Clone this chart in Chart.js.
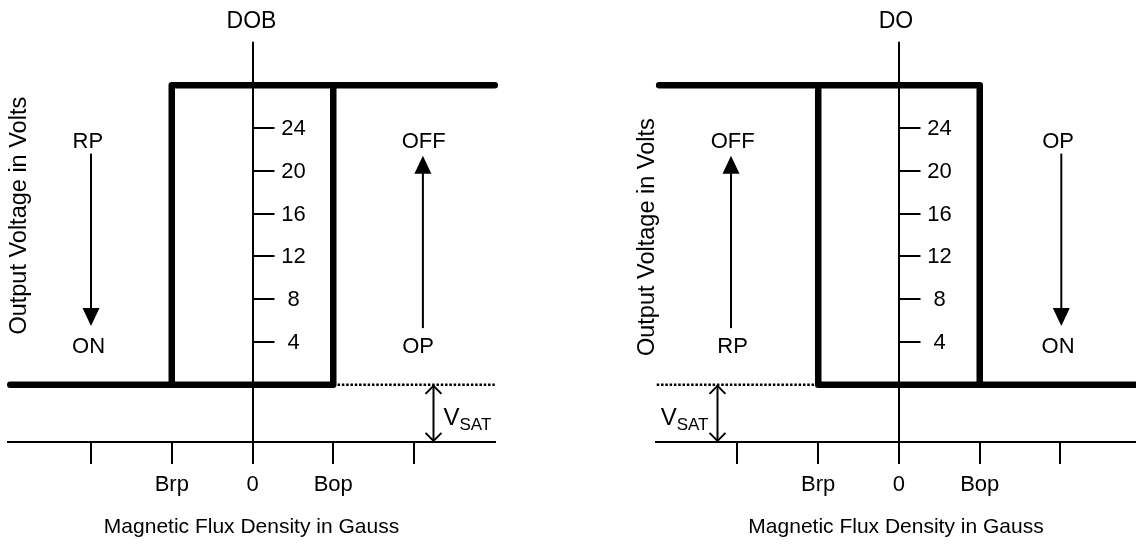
<!DOCTYPE html>
<html>
<head>
<meta charset="utf-8">
<script src="https://cdn.jsdelivr.net/npm/chart.js@4.4.1/dist/chart.umd.min.js"></script>
<style>
  html, body { margin: 0; padding: 0; background: #fff; }
  #wrap { position: relative; width: 1136px; height: 544px; overflow: hidden; }
  canvas { position: absolute; top: 0; }
  #dob-chart { left: 0; }
  #do-chart { left: 568px; }
</style>
</head>
<body>
<div id="wrap">
  <canvas id="dob-chart" width="568" height="544"></canvas>
  <canvas id="do-chart" width="568" height="544"></canvas>
</div>
<script>
//? Shared axes (flux in tick steps, volts)
const fluxTicks = [-2, -1, 0, 1, 2]
const fluxTickLabels = ['', 'Brp', '0', 'Bop', '']
const voltTicks = [4, 8, 12, 16, 20, 24]

//? DOB output path
const dobLowX = [-3, 1, 1, 3]
const dobLowY = [0, 0, 28, 28]
const dobLoopX = [-1, -1, 1]
const dobLoopY = [0, 28, 28]
const dobSatX = [1, 3]
const dobSatY = [0, 0]

//? DO output path
const doHighX = [-2.97, 1, 1, 3]
const doHighY = [28, 28, 0, 0]
const doLoopX = [-1, -1, 1]
const doLoopY = [28, 0, 0]
const doSatX = [-3, -1]
const doSatY = [0, 0]

const FONT = '"Liberation Sans", Arial, sans-serif'
Chart.defaults.font.family = FONT
Chart.defaults.color = '#000'

const pts = (xs, ys) => xs.map((x, i) => ({ x: x, y: ys[i] }))

const thick = (data) => ({
    data: data,
    borderColor: '#000',
    borderWidth: 6.5,
    pointRadius: 0,
    borderCapStyle: 'round',
    borderJoinStyle: 'round',
    tension: 0,
    clip: false
})

const dotted = (data) => ({
    data: data,
    borderColor: '#000',
    borderWidth: 2.5,
    borderDash: [2.5, 1.8],
    pointRadius: 0,
    tension: 0,
    clip: false
})

function arrow(ctx, x, y1, y2) {
    const dir = y2 > y1 ? 1 : -1
    ctx.beginPath(); ctx.moveTo(x, y1); ctx.lineTo(x, y2 - dir * 14); ctx.stroke()
    ctx.beginPath()
    ctx.moveTo(x, y2)
    ctx.lineTo(x - 8.5, y2 - dir * 18)
    ctx.lineTo(x + 8.5, y2 - dir * 18)
    ctx.closePath(); ctx.fill()
}

//? labels, volt ticks, arrows
const markup = {
    id: 'markup',
    afterDatasetsDraw(chart, args, opts) {
        const { ctx, chartArea } = chart
        const xs = chart.scales.x, ys = chart.scales.y
        const x0 = Math.round(xs.getPixelForValue(0)) + 0.5
        ctx.save()
        ctx.strokeStyle = '#000'; ctx.fillStyle = '#000'; ctx.lineWidth = 2

        ctx.font = '22px ' + FONT
        ctx.textAlign = 'center'; ctx.textBaseline = 'middle'
        voltTicks.forEach(v => {
            const y = Math.round(ys.getPixelForValue(v))
            ctx.beginPath(); ctx.moveTo(x0, y); ctx.lineTo(x0 + 21, y); ctx.stroke()
            ctx.fillText(String(v), x0 + 40, y + 1)
        })

        opts.notes.forEach(n => {
            ctx.fillText(n[0], xs.getPixelForValue(n[1]), ys.getPixelForValue(n[2]))
        })
        opts.arrows.forEach(a => {
            arrow(ctx, xs.getPixelForValue(a[0]), ys.getPixelForValue(a[1]), ys.getPixelForValue(a[2]))
        })

        // y title
        ctx.save()
        ctx.font = '23.5px ' + FONT
        ctx.translate(xs.getPixelForValue(opts.yTitle[0]), ys.getPixelForValue(opts.yTitle[1]))
        ctx.rotate(-Math.PI / 2)
        ctx.fillText('Output Voltage in Volts', 0, 0)
        ctx.restore()

        // Vsat span
        const vx = Math.round(xs.getPixelForValue(opts.vsat[0])) + 0.5
        const top = ys.getPixelForValue(0), bot = chartArea.bottom
        ctx.beginPath(); ctx.moveTo(vx, top); ctx.lineTo(vx, bot); ctx.stroke()
        ctx.beginPath()
        ctx.moveTo(vx - 8, top + 9); ctx.lineTo(vx, top + 1); ctx.lineTo(vx + 8, top + 9)
        ctx.moveTo(vx - 8, bot - 9); ctx.lineTo(vx, bot - 1); ctx.lineTo(vx + 8, bot - 9)
        ctx.stroke()

        ctx.textAlign = 'left'; ctx.textBaseline = 'alphabetic'
        ctx.font = '24px ' + FONT
        const wV = ctx.measureText('V').width
        ctx.font = '17px ' + FONT
        const wS = ctx.measureText('SAT').width
        const base = ys.getPixelForValue(-3.74)
        const sx = opts.vsat[1] === 'right' ? vx + 10 : vx - 9 - wV - wS
        ctx.font = '24px ' + FONT
        ctx.fillText('V', sx, base)
        ctx.font = '17px ' + FONT
        ctx.fillText('SAT', sx + wV, base + 5)
        ctx.restore()
    }
}

function makePanel(canvasId, title, datasets, lay) {
    return new Chart(document.getElementById(canvasId), {
        type: 'line',
        data: { datasets: datasets },
        options: {
            responsive: false,
            animation: false,
            devicePixelRatio: 1,
            layout: { padding: { left: lay.padLeft, right: lay.padRight, top: 0, bottom: 0 } },
            scales: {
                x: {
                    type: 'linear',
                    min: lay.xMin,
                    max: lay.xMax,
                    afterBuildTicks: s => { s.ticks = fluxTicks.map(v => ({ value: v })) },
                    grid: {
                        color: c => (c.tick && c.tick.value === 0) ? '#000' : 'rgba(0,0,0,0)',
                        tickColor: '#000',
                        lineWidth: 2,
                        tickLength: 22
                    },
                    border: { display: true, color: '#000', width: 2 },
                    ticks: {
                        autoSkip: false,
                        maxRotation: 0,
                        padding: 8,
                        font: { size: 22 },
                        callback: v => fluxTickLabels[fluxTicks.indexOf(v)] || ''
                    },
                    title: {
                        display: true,
                        text: 'Magnetic Flux Density in Gauss',
                        font: { size: 21 },
                        padding: { top: 8, bottom: 4.5 }
                    }
                },
                y: { type: 'linear', min: -5.33, max: 32.05, display: false }
            },
            plugins: {
                legend: { display: false },
                tooltip: { enabled: false },
                title: {
                    display: true,
                    text: title,
                    fullSize: false,
                    font: { size: 23, weight: 'normal' },
                    padding: { top: 7.5, bottom: 6.7 }
                },
                markup: lay
            }
        },
        plugins: [markup]
    })
}

//? DOB Chart
const dobChart = makePanel('dob-chart', 'DOB', [
    thick(pts(dobLowX, dobLowY)),
    thick(pts(dobLoopX, dobLoopY)),
    dotted(pts(dobSatX, dobSatY))
], {
    xMin: -3.028, xMax: 3.003, padLeft: 8, padRight: 73,
    yTitle: [-2.88, 15.8],
    notes: [['RP', -2.04, 22.7], ['ON', -2.03, 3.5], ['OFF', 2.12, 22.7], ['OP', 2.05, 3.5]],
    arrows: [[-2, 21.6, 5.5], [2.11, 5.3, 21.4]],
    vsat: [2.235, 'right']
})

//? DO Chart
const doChart = makePanel('do-chart', 'DO', [
    thick(pts(doHighX, doHighY)),
    thick(pts(doLoopX, doLoopY)),
    dotted(pts(doSatX, doSatY))
], {
    xMin: -3.009, xMax: 2.935, padLeft: 88, padRight: 0,
    yTitle: [-3.11, 13.8],
    notes: [['OFF', -2.06, 22.7], ['RP', -2.06, 3.5], ['OP', 1.97, 22.7], ['ON', 1.97, 3.5]],
    arrows: [[-2.08, 5.3, 21.4], [2.01, 21.6, 5.5]],
    vsat: [-2.25, 'left']
})
</script>
</body>
</html>
